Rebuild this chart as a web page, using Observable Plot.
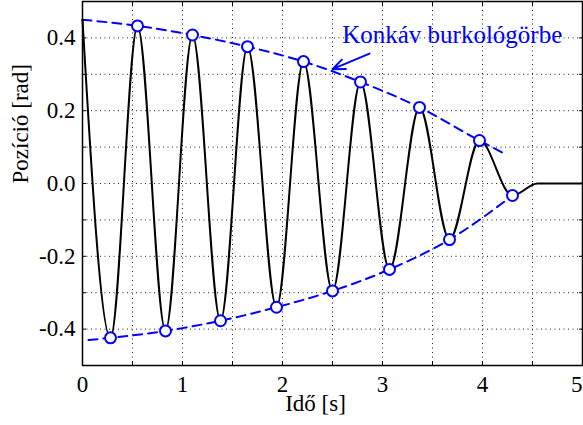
<!DOCTYPE html>
<html><head><meta charset="utf-8">
<script src="https://cdn.jsdelivr.net/npm/d3@7"></script>
<script src="https://cdn.jsdelivr.net/npm/@observablehq/plot@0.6"></script>
<style>body{margin:0;background:#fff;}</style>
</head><body><div id="chart"></div>
<script>
// Black response curve: extrema (plus settling)
const timeS  = [0, 0.28, 0.55, 0.83, 1.10, 1.38, 1.65, 1.94, 2.21, 2.50, 2.78, 3.07, 3.37, 3.67, 3.97, 4.30, 4.55, 5.00];
const posRad = [0.450, -0.424, 0.433, -0.405, 0.408, -0.377, 0.376, -0.340, 0.335, -0.295, 0.279, -0.236, 0.209, -0.154, 0.118, -0.033, 0.000, 0.000];
// Circle markers
const peakT   = [0.55, 1.10, 1.65, 2.21, 2.78, 3.37, 3.97];
const peakY   = [0.433, 0.408, 0.376, 0.335, 0.279, 0.209, 0.118];
const troughT = [0.28, 0.83, 1.38, 1.94, 2.50, 3.07, 3.67, 4.30];
const troughY = [-0.424, -0.405, -0.377, -0.340, -0.295, -0.236, -0.154, -0.033];
// Dashed envelopes
const upperEnvT = [0, 0.55, 1.10, 1.65, 2.21, 2.78, 3.37, 3.97, 4.24];
const upperEnvY = [0.450, 0.433, 0.408, 0.376, 0.335, 0.279, 0.209, 0.118, 0.079];
const lowerEnvT = [0.06, 0.28, 0.83, 1.38, 1.94, 2.50, 3.07, 3.67, 4.30];
const lowerEnvY = [-0.430, -0.424, -0.405, -0.377, -0.340, -0.295, -0.236, -0.154, -0.033];
// Ticks
const xTicks = [0, 1, 2, 3, 4, 5];
const yTicks = [-0.4, -0.2, 0.0, 0.2, 0.4];
const xMinor = [0.5, 1, 1.5, 2, 2.5, 3, 3.5, 4, 4.5];
const yMinor = [-0.4, -0.3, -0.2, -0.1, 0, 0.1, 0.2, 0.3, 0.4];
// Text
const xLabel = "Idő [s]";
const yLabel = "Pozíció [rad]";
const annotText = ["Konkáv burkológörbe"];
const annotX = [2.597];
const annotY = [0.408];
const arrowFrom = [2.87, 0.357];
const arrowTo = [2.50, 0.314];

const curve = timeS.map((t, i) => ({t, y: posRad[i]}));
const peaks = peakT.map((t, i) => ({t, y: peakY[i]}));
const troughs = troughT.map((t, i) => ({t, y: troughY[i]}));
const upper = upperEnvT.map((t, i) => ({t, y: upperEnvY[i]}));
const lower = lowerEnvT.map((t, i) => ({t, y: lowerEnvY[i]}));
const annot = annotText.map((s, i) => ({s, x: annotX[i], y: annotY[i]}));

const BLUE = "#0000ff";
const FS = 23;
const grid = {stroke: "#222", strokeWidth: 1, strokeDasharray: "1,3.5"};

const chart = Plot.plot({
  width: 583, height: 425,
  marginLeft: 82, marginRight: 1, marginTop: 1, marginBottom: 60,
  style: {fontFamily: "'Liberation Serif', serif", fontSize: FS + "px", background: "white", color: "black"},
  x: {domain: [0, 5]},
  y: {domain: [-0.5, 0.5]},
  marks: [
    Plot.ruleX(xMinor, {x: d => d, ...grid}),
    Plot.ruleY(yMinor, {y: d => d, ...grid}),
    Plot.axisY({ticks: yTicks, anchor: "left", tickSize: 0, tickPadding: 7, tickFormat: d => d.toFixed(1), label: null, fontSize: FS}),
    Plot.axisX({ticks: xTicks.slice(0, -1), anchor: "bottom", tickSize: 0, tickPadding: 10, tickFormat: d => String(d), label: null, fontSize: FS}),
    Plot.text(xTicks.slice(-1), {x: d => d, frameAnchor: "bottom", text: d => String(d), textAnchor: "end", lineAnchor: "top", dy: 10, fontSize: FS}),
    Plot.axisY({ticks: yMinor, anchor: "left", tickSize: -4, tickFormat: () => "", label: null}),
    Plot.axisY({ticks: yMinor, anchor: "right", tickSize: -4, tickFormat: () => "", label: null}),
    Plot.axisX({ticks: xMinor, anchor: "bottom", tickSize: -4, tickFormat: () => "", label: null}),
    Plot.axisX({ticks: xMinor, anchor: "top", tickSize: -4, tickFormat: () => "", label: null}),
    Plot.line(upper, {x: "t", y: "y", curve: "monotone-x", stroke: BLUE, strokeWidth: 2, strokeDasharray: "9,6"}),
    Plot.line(lower, {x: "t", y: "y", curve: "monotone-x", stroke: BLUE, strokeWidth: 2, strokeDasharray: "9,6"}),
    Plot.line(curve, {x: "t", y: "y", curve: "monotone-x", stroke: "black", strokeWidth: 2}),
    Plot.dot(peaks, {x: "t", y: "y", r: 5.5, stroke: BLUE, fill: "white", strokeWidth: 2}),
    Plot.dot(troughs, {x: "t", y: "y", r: 5.5, stroke: BLUE, fill: "white", strokeWidth: 2}),
    Plot.arrow([{}], {x1: arrowFrom[0], y1: arrowFrom[1], x2: arrowTo[0], y2: arrowTo[1], stroke: BLUE, strokeWidth: 2, headLength: 11, headAngle: 45}),
    Plot.text(annot, {x: "x", y: "y", text: "s", textAnchor: "start", fill: BLUE, fontSize: 25}),
    Plot.text([xLabel], {frameAnchor: "bottom", text: d => d, dx: -17, dy: 45, fontSize: FS}),
    Plot.text([yLabel], {frameAnchor: "left", text: d => d, rotate: -90, dx: -62, fontSize: FS}),
    Plot.frame({stroke: "black", strokeWidth: 1.5})
  ]
});
document.getElementById("chart").appendChild(chart);
</script>
</body></html>
